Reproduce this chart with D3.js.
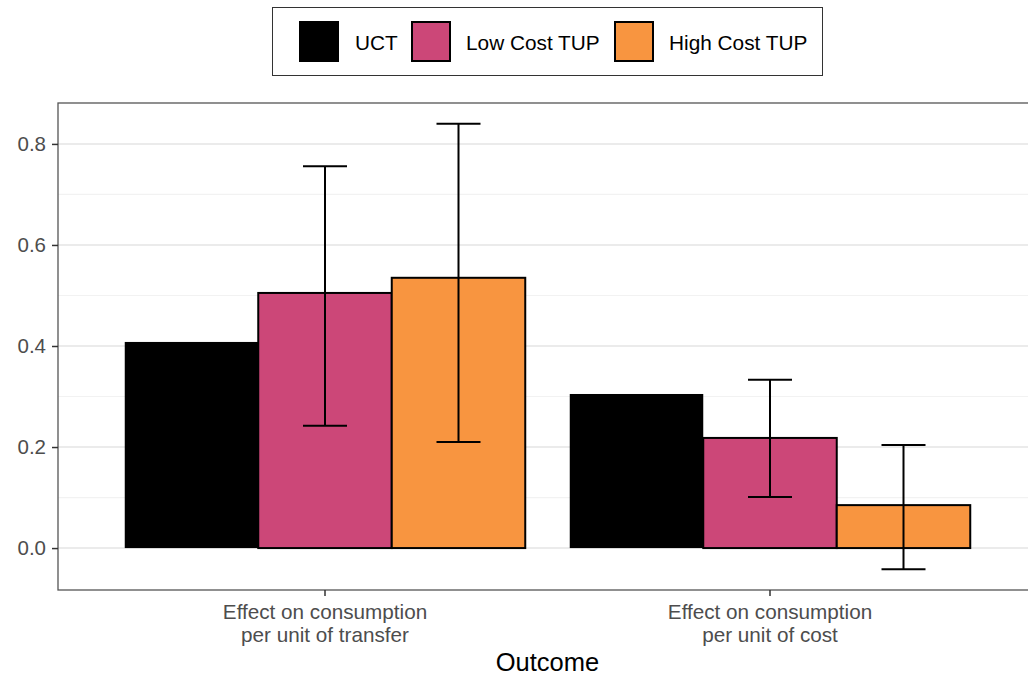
<!DOCTYPE html>
<html>
<head>
<meta charset="utf-8">
<script src="https://cdn.jsdelivr.net/npm/d3@7"></script>
<style>
  body { margin: 0; background: #fff; }
  svg { font-family: "Liberation Sans", Arial, sans-serif; }
</style>
</head>
<body>
<svg id="chart" width="1028" height="676"></svg>
<script>
// data
const outcomes = ["transfer", "cost"];
const outcomeLabels = [["Effect on consumption", "per unit of transfer"], ["Effect on consumption", "per unit of cost"]];
const groups = ["UCT", "Low Cost TUP", "High Cost TUP"];
const uct = [0.408, 0.305];
const lowCost = [0.505, 0.218];
const highCost = [0.535, 0.085];
const lowCostLo = [0.242, 0.101];
const lowCostHi = [0.756, 0.333];
const highCostLo = [0.210, -0.042];
const highCostHi = [0.840, 0.204];
const yTicks = [0, 0.2, 0.4, 0.6, 0.8];
const yMinor = [0.1, 0.3, 0.5, 0.7];

const colors = ["#000000", "#CC4778", "#F89540"];

const rows = [];
outcomes.forEach((o, i) => {
  rows.push({outcome: o, group: groups[0], value: uct[i]});
  rows.push({outcome: o, group: groups[1], value: lowCost[i], lo: lowCostLo[i], hi: lowCostHi[i]});
  rows.push({outcome: o, group: groups[2], value: highCost[i], lo: highCostLo[i], hi: highCostHi[i]});
});

const svg = d3.select("#chart");
const panel = {left: 58, right: 1037, top: 103, bottom: 590};

// ggplot-like: category step and 0.9 dodge width
const step = (panel.right - panel.left) / 2.2;
const cx = o => panel.left + step * (0.6 + outcomes.indexOf(o));
const dodgeW = step * 0.9;
const xs = d3.scaleBand().domain(groups).range([-dodgeW / 2, dodgeW / 2]);

const y = d3.scaleLinear().domain([-0.083, 0.881]).range([panel.bottom, panel.top]);
const color = d3.scaleOrdinal().domain(groups).range(colors);

const g = svg.append("g");
g.append("rect").attr("x", panel.left).attr("y", panel.top)
  .attr("width", panel.right - panel.left).attr("height", panel.bottom - panel.top)
  .attr("fill", "#fff");

g.selectAll(".minor").data(yMinor).enter().append("line")
  .attr("x1", panel.left).attr("x2", panel.right)
  .attr("y1", d => y(d)).attr("y2", d => y(d))
  .attr("stroke", "#F2F2F2").attr("stroke-width", 1.2);
g.selectAll(".major").data(yTicks).enter().append("line")
  .attr("x1", panel.left).attr("x2", panel.right)
  .attr("y1", d => y(d)).attr("y2", d => y(d))
  .attr("stroke", "#EBEBEB").attr("stroke-width", 2);

g.selectAll(".bar").data(rows).enter().append("rect")
  .attr("x", d => cx(d.outcome) + xs(d.group))
  .attr("width", xs.bandwidth())
  .attr("y", d => y(Math.max(0, d.value)))
  .attr("height", d => Math.abs(y(d.value) - y(0)))
  .attr("fill", d => color(d.group))
  .attr("stroke", d => d.group === "UCT" ? "none" : "#000")
  .attr("stroke-width", 2);

const errs = rows.filter(d => d.lo !== undefined);
const capW = 44;
const eb = g.selectAll(".err").data(errs).enter().append("g")
  .attr("transform", d => `translate(${cx(d.outcome) + xs(d.group) + xs.bandwidth() / 2},0)`);
eb.append("line").attr("x1", 0).attr("x2", 0)
  .attr("y1", d => y(d.lo)).attr("y2", d => y(d.hi))
  .attr("stroke", "#000").attr("stroke-width", 2);
eb.append("line").attr("x1", -capW / 2).attr("x2", capW / 2)
  .attr("y1", d => y(d.lo)).attr("y2", d => y(d.lo))
  .attr("stroke", "#000").attr("stroke-width", 2);
eb.append("line").attr("x1", -capW / 2).attr("x2", capW / 2)
  .attr("y1", d => y(d.hi)).attr("y2", d => y(d.hi))
  .attr("stroke", "#000").attr("stroke-width", 2);

g.append("rect").attr("x", panel.left).attr("y", panel.top)
  .attr("width", panel.right - panel.left).attr("height", panel.bottom - panel.top)
  .attr("fill", "none").attr("stroke", "#555").attr("stroke-width", 1.3);

// y axis
const yAxis = svg.append("g").attr("transform", `translate(${panel.left},0)`)
  .call(d3.axisLeft(y).tickValues(yTicks).tickFormat(d3.format(".1f")).tickSize(6).tickPadding(6));
yAxis.select(".domain").remove();
yAxis.selectAll(".tick line").attr("stroke", "#333").attr("stroke-width", 1.5);
yAxis.selectAll(".tick text").attr("fill", "#4D4D4D").style("font-size", "20.5px");

// x axis
const xAxis = svg.append("g").attr("transform", `translate(0,${panel.bottom})`);
outcomes.forEach((o, i) => {
  xAxis.append("line").attr("x1", cx(o)).attr("x2", cx(o)).attr("y1", 0).attr("y2", 6)
    .attr("stroke", "#333").attr("stroke-width", 1.5);
  const t = xAxis.append("text").attr("text-anchor", "middle")
    .attr("fill", "#4D4D4D").style("font-size", "20.7px");
  outcomeLabels[i].forEach((line, j) => {
    t.append("tspan").attr("x", cx(o)).attr("y", 29 + j * 23).text(line);
  });
});

svg.append("text").attr("x", (panel.left + panel.right) / 2).attr("y", 671)
  .attr("text-anchor", "middle").style("font-size", "25.5px").attr("fill", "#000").text("Outcome");

// legend
const legend = svg.append("g");
legend.append("rect").attr("x", 272.5).attr("y", 7.5).attr("width", 550).attr("height", 68)
  .attr("fill", "#fff").attr("stroke", "#333").attr("stroke-width", 1);
const keyX = [300, 412, 615];
const labX = [355, 466, 669];
groups.forEach((gName, i) => {
  legend.append("rect").attr("x", keyX[i]).attr("y", 22).attr("width", 38).attr("height", 39)
    .attr("fill", colors[i]).attr("stroke", "#000").attr("stroke-width", 2);
  legend.append("text").attr("x", labX[i]).attr("y", 50).style("font-size", "20.8px")
    .attr("fill", "#000").text(gName);
});
</script>
</body>
</html>
